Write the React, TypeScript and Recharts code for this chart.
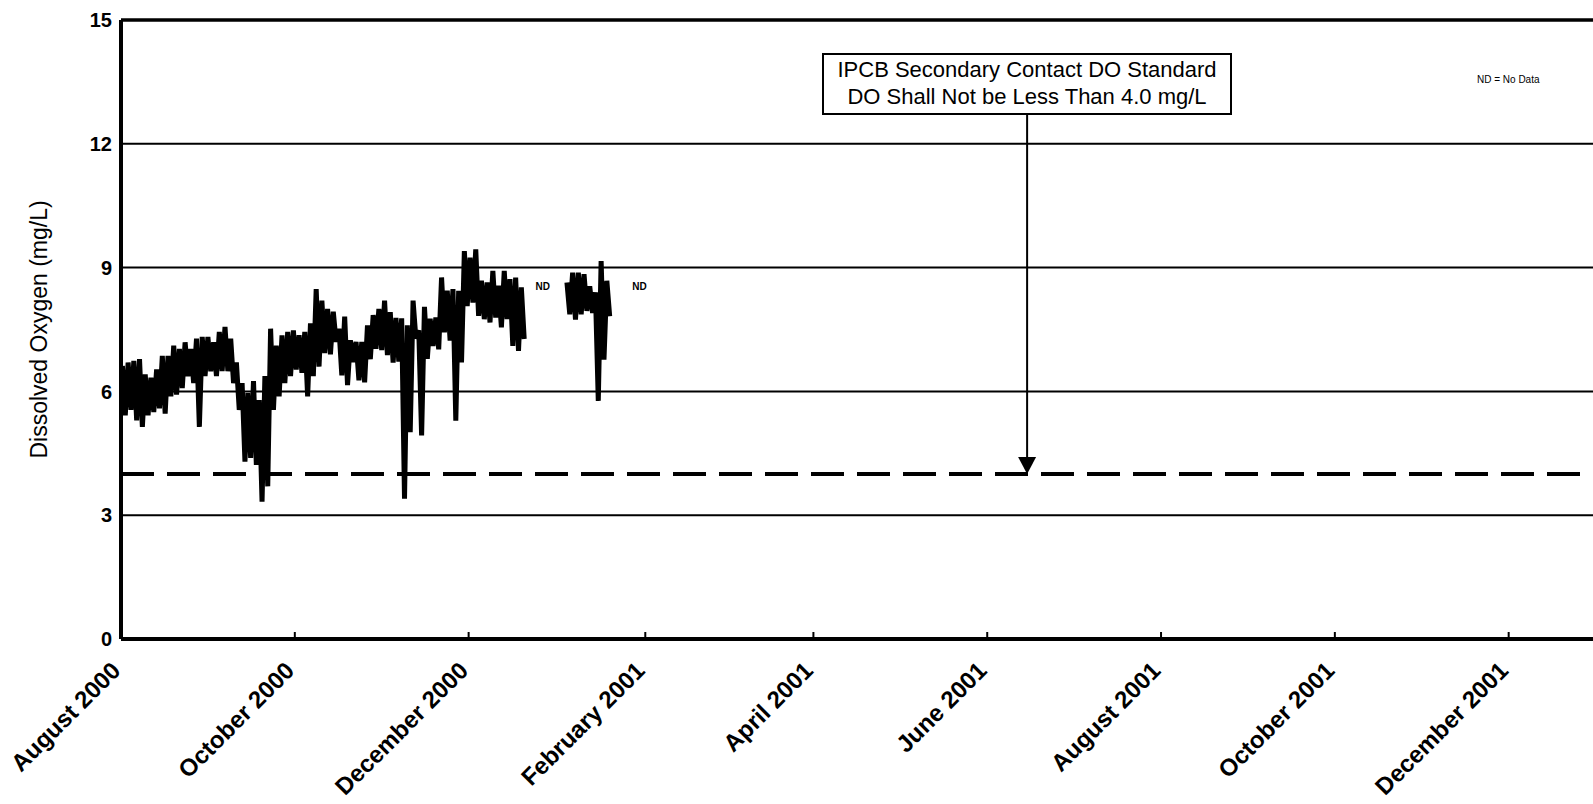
import React from "react";
import {
  CartesianGrid,
  Line,
  LineChart,
  ReferenceDot,
  ReferenceLine,
  XAxis,
  YAxis,
} from "recharts";

const DAY = 86400000;
const xStart = Date.UTC(2000, 7, 1);
const xEnd = Date.UTC(2002, 0, 1);

const tickDates = [
  Date.UTC(2000, 7, 1),
  Date.UTC(2000, 9, 1),
  Date.UTC(2000, 11, 1),
  Date.UTC(2001, 1, 1),
  Date.UTC(2001, 3, 1),
  Date.UTC(2001, 5, 1),
  Date.UTC(2001, 7, 1),
  Date.UTC(2001, 9, 1),
  Date.UTC(2001, 11, 1),
];
const tickLabels = [
  "August 2000",
  "October 2000",
  "December 2000",
  "February 2001",
  "April 2001",
  "June 2001",
  "August 2001",
  "October 2001",
  "December 2001",
];
const yTicks = [0, 3, 6, 9, 12, 15];

// two-day high / low readings, first run starting Aug 1 2000
const run1Start = Date.UTC(2000, 7, 1);
const run1High = [
  6.62, 6.7, 6.74, 6.78, 6.41, 6.33, 6.53, 6.86, 6.86, 7.11,
  7.03, 7.19, 7.03, 7.28, 7.32, 7.32, 7.19, 7.44, 7.56, 7.28,
  6.7, 6.2, 5.96, 6.25, 5.79, 6.37, 7.52, 7.11, 7.36, 7.44,
  7.48, 7.36, 7.44, 7.65, 8.48, 8.2, 8.0, 7.93, 7.52, 7.81,
  7.24, 7.2, 7.2, 7.6, 7.85, 8.0, 8.2, 7.92, 7.78, 7.77,
  7.6, 8.2, 7.48, 8.05, 7.76, 7.79, 8.76, 8.44, 8.48, 8.44,
  9.4, 9.24, 9.44, 8.68, 8.64, 8.92, 8.56, 8.92, 8.72, 8.76,
  8.52,
];
const run1Low = [
  5.42, 5.55, 5.3, 5.14, 5.42, 5.5, 5.59, 5.46, 5.88, 5.92,
  6.08, 6.37, 6.2, 5.14, 6.37, 6.49, 6.37, 6.49, 6.49, 6.2,
  5.55, 4.3, 4.39, 4.22, 3.33, 3.7, 5.55, 5.88, 6.2, 6.37,
  6.53, 6.45, 5.88, 6.37, 6.6, 6.93, 6.9, 7.2, 6.39, 6.15,
  6.71, 6.27, 6.22, 6.78, 7.03, 7.0, 6.88, 6.7, 6.72, 3.4,
  5.01, 7.28, 4.93, 6.79, 7.1, 7.02, 7.43, 7.23, 5.29, 6.7,
  8.07, 8.15, 7.83, 7.75, 7.67, 7.79, 7.55, 7.75, 7.1, 6.98,
  7.27,
];
// second run starting Jan 4 2001
const run2Start = Date.UTC(2001, 0, 4);
const run2High = [8.64, 8.88, 8.88, 8.84, 8.55, 8.4, 9.16, 8.68];
const run2Low = [7.87, 7.74, 7.87, 7.95, 7.9, 5.77, 6.77, 7.82];

const gapDate = Date.UTC(2000, 11, 28);
const doStandard = 4.0;
const arrowDate = Date.UTC(2001, 5, 15);
const arrowTop = 12.75;
const noDataDates = [Date.UTC(2000, 11, 27), Date.UTC(2001, 0, 30)];
const noDataLevel = 8.55;

type Pt = { t: number; v: number | null };

function toPoints(start: number, highs: number[], lows: number[]): Pt[] {
  return highs.flatMap((h, i) => [
    { t: start + (2 * i + 0.5) * DAY, v: h },
    { t: start + (2 * i + 1.5) * DAY, v: lows[i] },
  ]);
}

const data: Pt[] = [
  ...toPoints(run1Start, run1High, run1Low),
  { t: gapDate, v: null },
  ...toPoints(run2Start, run2High, run2Low),
];

const FONT = "'Liberation Sans', Arial, sans-serif";

const DateTick = (props: any) => {
  const { x, y, payload } = props;
  const i = tickDates.indexOf(payload.value);
  const ax = x + 1;
  const ay = y + 33;
  return (
    <text
      x={ax}
      y={ay}
      transform={`rotate(-45 ${ax} ${ay})`}
      textAnchor="end"
      fontSize={24}
      fontWeight="bold"
      fill="#000"
    >
      {tickLabels[i]}
    </text>
  );
};

const YTitle = (props: any) => {
  const vb = props.viewBox;
  const cx = 39;
  const cy = vb.y + vb.height / 2;
  return (
    <text
      x={cx}
      y={cy}
      transform={`rotate(-90 ${cx} ${cy})`}
      textAnchor="middle"
      dominantBaseline="central"
      fontSize={23}
      fill="#000"
    >
      Dissolved Oxygen (mg/L)
    </text>
  );
};

const Arrowhead = (props: any) => {
  const { cx, cy } = props;
  return <path d={`M${cx - 9},${cy - 17}L${cx + 9},${cy - 17}L${cx},${cy}Z`} fill="#000" />;
};

const NoDataMark = (props: any) => {
  const { cx, cy } = props;
  return (
    <text x={cx} y={cy} textAnchor="middle" dominantBaseline="central" fontSize={10} fontWeight="bold" fill="#000">
      ND
    </text>
  );
};

const App = () => {
  return (
    <div
      style={{
        position: "absolute",
        left: 0,
        top: 0,
        width: 1593,
        height: 804,
        overflow: "hidden",
        background: "#fff",
        fontFamily: FONT,
      }}
    >
      <LineChart
        width={1620}
        height={804}
        data={data}
        margin={{ top: 20, right: 23, bottom: 105, left: 0 }}
      >
        <CartesianGrid vertical={false} stroke="#000" strokeWidth={2} strokeOpacity={1} />
        <XAxis
          dataKey="t"
          type="number"
          domain={[xStart, xEnd]}
          ticks={tickDates}
          interval={0}
          height={60}
          tickLine={false}
          tickSize={0}
          tickMargin={0}
          axisLine={{ stroke: "#000", strokeWidth: 4 }}
          tick={<DateTick />}
          allowDataOverflow
        />
        <YAxis
          type="number"
          domain={[0, 15]}
          ticks={yTicks}
          width={121}
          tickLine={false}
          tickSize={6}
          tickMargin={3}
          axisLine={{ stroke: "#000", strokeWidth: 4 }}
          tick={{ fill: "#000", fontSize: 20, fontWeight: "bold" }}
          label={<YTitle />}
        />
        <ReferenceLine y={15} stroke="#000" strokeWidth={3.5} />
        <ReferenceLine
          y={doStandard}
          stroke="#000"
          strokeWidth={4}
          strokeDasharray="33 13"
        />
        {tickDates.map((d) => (
          <ReferenceLine
            key={d}
            segment={[
              { x: d, y: 0 },
              { x: d, y: 0.17 },
            ]}
            stroke="#000"
            strokeWidth={2}
          />
        ))}
        <ReferenceLine
          segment={[
            { x: arrowDate, y: arrowTop },
            { x: arrowDate, y: doStandard + 0.3 },
          ]}
          stroke="#000"
          strokeWidth={2}
        />
        <ReferenceDot x={arrowDate} y={doStandard} r={0} shape={<Arrowhead />} />
        {noDataDates.map((d) => (
          <ReferenceDot key={d} x={d} y={noDataLevel} r={0} shape={<NoDataMark />} />
        ))}
        <Line
          type="linear"
          dataKey="v"
          stroke="#000"
          strokeWidth={5}
          strokeLinejoin="miter"
          dot={false}
          connectNulls={false}
          isAnimationActive={false}
        />
      </LineChart>
      <div
        style={{
          position: "absolute",
          left: 822,
          top: 53,
          width: 406,
          height: 57,
          border: "2px solid #000",
          background: "#fff",
          textAlign: "center",
          fontSize: 22,
          lineHeight: "27px",
          paddingTop: 1,
          boxSizing: "content-box",
          color: "#000",
          whiteSpace: "nowrap",
        }}
      >
        IPCB Secondary Contact DO Standard
        <br />
        DO Shall Not be Less Than 4.0 mg/L
      </div>
      <div
        style={{
          position: "absolute",
          left: 1477,
          top: 74,
          fontSize: 10,
          color: "#000",
          whiteSpace: "nowrap",
        }}
      >
        ND = No Data
      </div>
    </div>
  );
};

export default App;
